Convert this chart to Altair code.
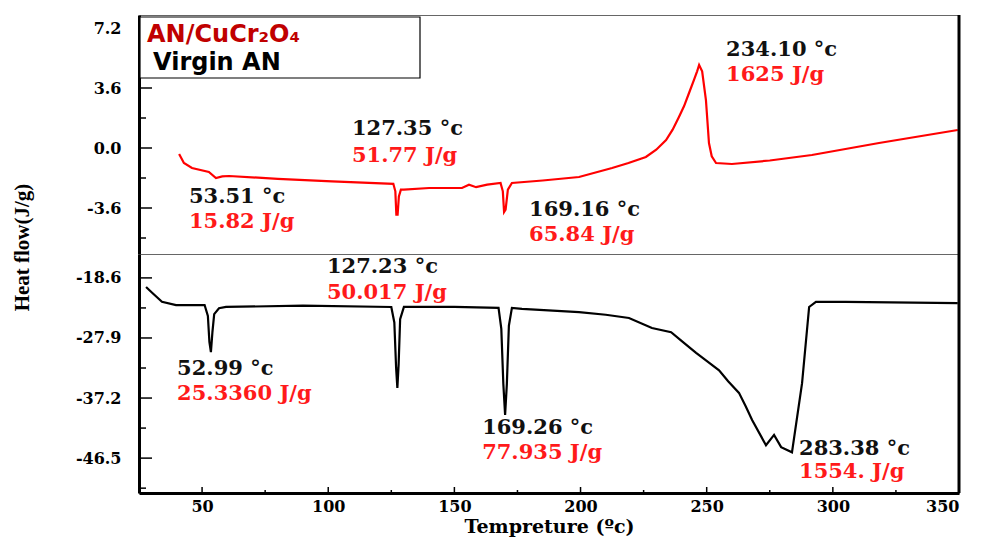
import altair as alt
import pandas as pd

# ---------------- data ----------------
# AN/CuCr2O4 curve (top panel)
red_x = [40.9, 42.8, 46.0, 52.7, 55.5, 58.0, 60.7, 80.0, 101.5, 125.8, 126.6, 127.0, 127.5, 128.0, 128.8,
         130.0, 140.0, 153.0, 155.8, 158.6, 163.0, 168.3, 169.2, 169.7, 170.3, 171.2, 172.8, 185.0, 199.4,
         212.5, 219.0, 225.9, 230.0, 233.9, 236.5, 239.0, 241.0, 243.0, 245.0, 246.2, 247.0, 248.2, 249.7,
         250.9, 252.0, 253.7, 260.0, 275.0, 291.7, 318.3, 349.5]
red_y = [-0.36, -0.9, -1.2, -1.44, -1.8, -1.7, -1.68, -1.85, -2.0, -2.15, -2.6, -4.0, -4.0, -2.9, -2.5,
         -2.5, -2.4, -2.4, -2.2, -2.35, -2.2, -2.1, -2.6, -3.84, -3.7, -2.5, -2.1, -1.95, -1.74,
         -1.2, -0.9, -0.54, -0.1, 0.48, 1.1, 1.86, 2.5, 3.3, 4.1, 4.6, 4.98, 4.6, 2.88,
         0.3, -0.5, -0.9, -0.96, -0.75, -0.42, 0.3, 1.08]

# Virgin AN curve (bottom panel)
blk_x = [27.8, 30.2, 34.1, 39.7, 51.0, 52.3, 52.9, 53.5, 54.1, 54.8, 56.7, 59.5, 90.0, 125.0, 126.2,
         126.9, 127.4, 127.9, 128.5, 130.0, 150.0, 167.5, 168.6, 169.4, 170.1, 170.8, 171.6, 172.8, 176.8,
         199.4, 210.0, 219.2, 228.3, 235.9, 240.5, 245.8, 250.5, 254.9, 258.5, 262.8, 265.5, 268.0, 273.5,
         276.7, 279.5, 283.8, 287.8, 290.6, 293.3, 305.0, 349.5]
blk_y = [-20.0, -20.9, -22.3, -22.8, -22.8, -24.5, -28.5, -30.1, -27.0, -24.2, -23.3, -23.1, -22.9, -23.1, -25.5,
         -32.5, -35.65, -32.0, -25.0, -23.1, -23.1, -23.25, -26.5, -35.0, -39.8, -35.0, -26.0, -23.25, -23.4,
         -23.9, -24.3, -24.8, -26.35, -27.0, -28.5, -30.2, -31.6, -32.9, -34.6, -36.4, -38.5, -40.6, -44.5,
         -42.9, -44.8, -45.6, -34.9, -23.1, -22.3, -22.3, -22.5]

x_domain = [25, 350]
top_domain = [-6.36, 7.98]
bot_domain = [-51.9, -14.9]

top_y_ticks = [7.2, 3.6, 0.0, -3.6]
top_y_minor = [5.4, 1.8, -1.8, -5.4]
bot_y_ticks = [-18.6, -27.9, -37.2, -46.5]
bot_y_minor = [-23.25, -32.55, -41.85, -51.15]
x_ticks = [50, 100, 150, 200, 250, 300, 350]
x_minor = [75, 125, 175, 225, 275, 325]

top_ann_text = ["127.35 °c", "51.77 J/g", "53.51 °c", "15.82 J/g",
                "169.16 °c", "65.84 J/g", "234.10 °c", "1625 J/g"]
top_ann_x = [109.4, 109.4, 44.8, 44.8, 179.6, 179.6, 257.7, 257.7]
top_ann_y = [1.14, -0.48, -2.94, -4.44, -3.72, -5.22, 5.88, 4.38]

bot_ann_text = ["127.23 °c", "50.017 J/g", "52.99 °c", "25.3360 J/g",
                "169.26 °c", "77.935 J/g", "283.38 °c", "1554. J/g"]
bot_ann_x = [99.5, 99.5, 40.1, 40.1, 161.0, 161.0, 286.6, 286.6]
bot_ann_y = [-16.9, -20.9, -32.7, -36.6, -41.85, -45.7, -45.1, -48.7]

ann_colors = ["#111111", "#ff1a1a"] * 4

legend_labels = ["AN/CuCr₂O₄", "Virgin AN"]
legend_colors = ["#c00000", "#000000"]

W, H = 820, 239
SERIF = "DejaVu Serif"
label_expr = "(datum.value < 0 ? '-' : '') + format(abs(datum.value), '.1f')"


def panel(lx, ly, color, ydom, yt, ym, ax, ay, atext, bottom):
    xs = alt.Scale(domain=x_domain, nice=False, zero=False)
    ys = alt.Scale(domain=ydom, nice=False, zero=False)

    if bottom:
        xaxis = alt.Axis(values=x_ticks, ticks=False, tickSize=0, grid=False,
                         domainWidth=3, domainColor="black", labelPadding=5,
                         labelFont=SERIF, labelFontSize=16, labelFontWeight="bold",
                         labelColor="black", title="Tempreture (ºc)",
                         titleFont=SERIF, titleFontSize=19, titleFontWeight="bold",
                         titleColor="black", titlePadding=3)
        yaxis = alt.Axis(values=yt, labelExpr=label_expr, ticks=False, tickSize=0, grid=False,
                         domainWidth=3, domainColor="black", labelPadding=18,
                         labelFont=SERIF, labelFontSize=16, labelFontWeight="bold",
                         labelColor="black", title=None)
    else:
        xaxis = None
        yaxis = alt.Axis(values=yt, labelExpr=label_expr, ticks=False, tickSize=0, grid=False,
                         domainWidth=3, domainColor="black", labelPadding=18,
                         labelFont=SERIF, labelFontSize=16, labelFontWeight="bold",
                         labelColor="black", title="Heat flow(J/g)",
                         titleFont="Liberation Serif", titleFontSize=21, titleFontWeight="bold",
                         titleColor="black", titleX=-117, titleY=232, titleAngle=270,
                         titleAlign="center", titleBaseline="middle")

    X = lambda f: alt.X(f, scale=xs, axis=xaxis)
    Y = lambda f: alt.Y(f, scale=ys, axis=yaxis)

    layers = [alt.Chart(pd.DataFrame({"t": lx, "h": ly})).mark_line(
        color=color, strokeWidth=2.2).encode(x=X("t:Q"), y=Y("h:Q"))]

    # inward y ticks
    layers.append(alt.Chart(pd.DataFrame({"h": yt})).mark_rule(color="black", strokeWidth=1.5).encode(
        y=Y("h:Q"), x=alt.value(0), x2=alt.value(13)))
    layers.append(alt.Chart(pd.DataFrame({"h": ym})).mark_rule(color="black", strokeWidth=1.5).encode(
        y=Y("h:Q"), x=alt.value(0), x2=alt.value(7)))

    if bottom:
        layers.append(alt.Chart(pd.DataFrame({"t": x_ticks})).mark_rule(color="black", strokeWidth=1.5).encode(
            x=X("t:Q"), y=alt.value(H), y2=alt.value(H - 6)))
        layers.append(alt.Chart(pd.DataFrame({"t": x_minor})).mark_rule(color="black", strokeWidth=1.5).encode(
            x=X("t:Q"), y=alt.value(H), y2=alt.value(H - 3)))

    # annotations
    layers.append(alt.Chart(pd.DataFrame({"t": ax, "h": ay, "s": atext, "c": ann_colors})).mark_text(
        align="left", baseline="middle", font=SERIF, fontSize=21, fontWeight="bold").encode(
        x=X("t:Q"), y=Y("h:Q"), text="s:N", color=alt.Color("c:N", scale=None)))

    # right border
    layers.append(alt.Chart(pd.DataFrame({"t": [x_domain[1]]})).mark_rule(color="black", strokeWidth=3).encode(
        x=X("t:Q")))

    if not bottom:
        layers.append(alt.Chart(pd.DataFrame({"k": [0]})).mark_rect(
            fill="white", stroke="black", strokeWidth=1.2).encode(
            x=alt.value(1), x2=alt.value(281), y=alt.value(2), y2=alt.value(63)))
        layers.append(alt.Chart(pd.DataFrame({"s": [legend_labels[0]], "c": [legend_colors[0]]})).mark_text(
            align="left", baseline="middle", font="DejaVu Sans", fontSize=24, fontWeight="bold").encode(
            x=alt.value(8), y=alt.value(20), text="s:N", color=alt.Color("c:N", scale=None)))
        layers.append(alt.Chart(pd.DataFrame({"s": [legend_labels[1]], "c": [legend_colors[1]]})).mark_text(
            align="left", baseline="middle", font="DejaVu Sans", fontSize=24, fontWeight="bold").encode(
            x=alt.value(14), y=alt.value(48), text="s:N", color=alt.Color("c:N", scale=None)))

    return alt.layer(*layers).properties(width=W, height=H)


top = panel(red_x, red_y, "#ff0000", top_domain, top_y_ticks, top_y_minor,
            top_ann_x, top_ann_y, top_ann_text, bottom=False)
bot = panel(blk_x, blk_y, "#000000", bot_domain, bot_y_ticks, bot_y_minor,
            bot_ann_x, bot_ann_y, bot_ann_text, bottom=True)

chart = alt.vconcat(top, bot, spacing=0, bounds="flush").properties(
    padding={"left": 2, "top": 5, "right": 5, "bottom": 0}
).configure_view(stroke="#666666", strokeWidth=1)

chart.save("out.html", embed_options={"renderer": "svg", "actions": False})
